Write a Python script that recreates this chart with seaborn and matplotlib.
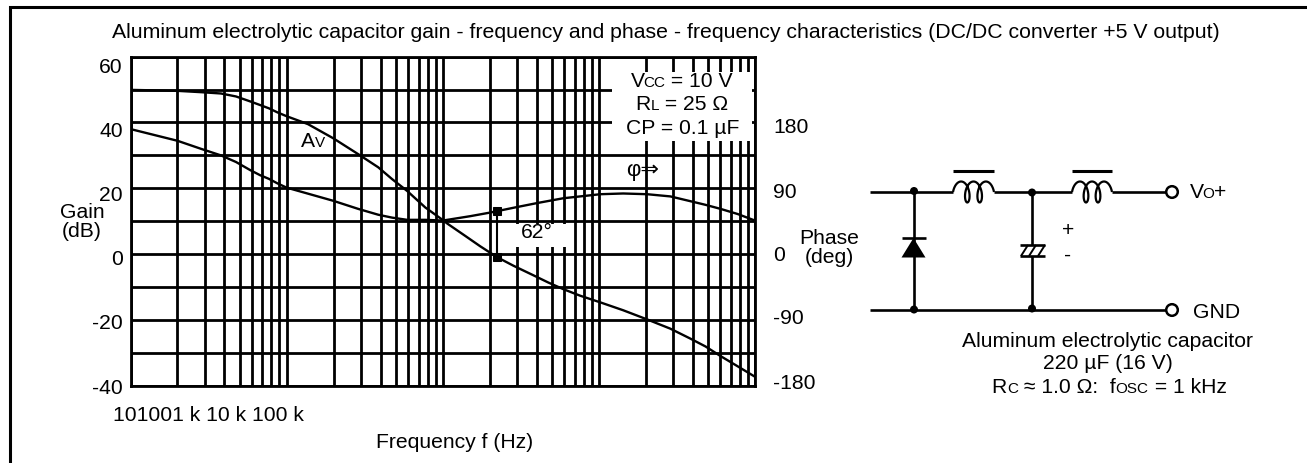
import numpy as np
import pandas as pd
import matplotlib
matplotlib.use("Agg")
import matplotlib.pyplot as plt
import matplotlib.transforms as mtransforms
from matplotlib.patches import Circle, Polygon, Rectangle
from matplotlib.ticker import LogLocator, NullFormatter
import seaborn as sns

# values
gain_freq = [10, 20, 28.3, 38, 47.4, 58.4, 67.6, 77, 87, 100, 137, 199, 287, 386, 474, 592, 773,
             1000, 1070, 1390, 1740, 2230, 2840, 3810, 4750, 5920, 7600, 10200, 14300, 20400,
             28700, 38500, 48200, 60100, 77300, 100000]
gain_db = [49.9, 49.6, 49.2, 48.8, 47.9, 46.4, 45.3, 44.3, 43.1, 41.9, 39.5, 35.2, 30.4, 26.4, 22.8,
           19.2, 14.2, 10.4, 9.3, 5.6, 2.4, -0.9, -3.5, -6.4, -8.6, -10.6, -12.6, -14.6, -17,
           -19.8, -22.6, -25.6, -28, -30.9, -34, -37.2]
phase_freq = [10, 20, 28.3, 38, 47.4, 58.4, 67.6, 77, 87, 100, 199, 287, 386, 474, 592, 773, 1000,
              1500, 2020, 2840, 4040, 5920, 10200, 14300, 20400, 28700, 38500, 48200, 60100,
              77300, 100000]
phase_deg = [171, 155, 144, 135, 126, 115, 108, 103, 97, 91, 73, 62, 54, 50, 47, 47, 46,
             52, 57, 63.5, 70, 76.5, 82, 83, 82, 79, 72.5, 67.5, 62, 55, 46]
margin_freq = [2230, 2230]
margin_db = [13.1, -0.9]

gain_grid = [-40, -30, -20, -10, 0, 10, 20, 30, 40, 50, 60]
gain_labels = ["-40", "", "-20", "", "0", "", "20", "", "40", "", "60"]
phase_ticks = [180, 90, 0, -90, -180]
freq_labels = "101001 k 10 k 100 k"

W, H = 1307, 464
FS = 15.2
BLACK = "black"

sns.set_theme(style="white")
plt.rcParams["font.family"] = ["Liberation Sans", "DejaVu Sans"]
plt.rcParams["font.size"] = FS

fig = plt.figure(figsize=(W / 100, H / 100), dpi=100)
L, R, T, B = 130.5, 755, 57.6, 387
ax = fig.add_axes([L / W, 1 - B / H, (R - L) / W, (B - T) / H])

# gain on the left axis
df_gain = pd.DataFrame({"f": gain_freq, "gain": gain_db})
sns.lineplot(data=df_gain, x="f", y="gain", color=BLACK, lw=1.7, errorbar=None, ax=ax)
df_margin = pd.DataFrame({"f": margin_freq, "gain": margin_db})
sns.lineplot(data=df_margin, x="f", y="gain", color=BLACK, lw=1.5, marker="s", ms=5.8,
             mec=BLACK, estimator=None, sort=False, ax=ax)
ax.set_xscale("log")
ax.set_xlim(10, 100000)
ax.set_ylim(-40, 60)
ax.xaxis.set_major_locator(LogLocator(base=10))
ax.xaxis.set_minor_locator(LogLocator(base=10, subs=np.arange(2, 10), numticks=12))
ax.xaxis.set_minor_formatter(NullFormatter())
ax.grid(True, which="both", color=BLACK, lw=2.0)
ax.tick_params(which="both", length=0, labelbottom=False)
ax.set_axisbelow(True)
for s in ax.spines.values():
    s.set_color(BLACK)
    s.set_linewidth(2.0)

# only every other gridline gets a label, the labels sit a bit off their lines
ax.set_yticks(gain_grid)
ax.set_yticklabels(gain_labels, fontsize=FS, color=BLACK)
ax.tick_params(axis="y", pad=5.5)
left_nudge = {"60": -8, "40": -6, "20": -4, "0": -2, "-20": 0, "-40": 1}
for lab in ax.get_yticklabels():
    n = left_nudge.get(lab.get_text(), 0)
    lab.set_transform(lab.get_transform() + mtransforms.ScaledTranslation(0, n / 100, fig.dpi_scale_trans))

# phase on the right axis, same gridlines (4.5 deg per dB)
ax2 = ax.twinx()
df_phase = pd.DataFrame({"f": phase_freq, "phase": phase_deg})
sns.lineplot(data=df_phase, x="f", y="phase", color=BLACK, lw=1.7, errorbar=None, ax=ax2)
ax2.set_ylim(-180, 270)
ax2.set_yticks(phase_ticks)
ax2.set_yticklabels([str(v) for v in phase_ticks], fontsize=FS, color=BLACK)
ax2.grid(False)
ax2.tick_params(axis="y", length=0, pad=13)
right_nudge = {"180": -2, "90": -1, "0": 2, "-90": 5, "-180": 5}
for lab in ax2.get_yticklabels():
    n = right_nudge[lab.get_text()]
    lab.set_transform(lab.get_transform() + mtransforms.ScaledTranslation(0, n / 100, fig.dpi_scale_trans))
for s in ax2.spines.values():
    s.set_visible(False)


def ax_xy(px, py):
    return (px - L) / (R - L), (B - py) / (B - T)


ax.set_xlabel("Frequency f (Hz)", fontsize=FS, color=BLACK)
ax.xaxis.set_label_coords(*ax_xy(455, 443))
ax.xaxis.label.set_va("center")
ax.set_ylabel("Gain\n(dB)", fontsize=FS, color=BLACK, rotation=0, ha="center", va="center", linespacing=1.0)
ax.yaxis.set_label_coords(*ax_xy(82, 222))
ax2.set_ylabel("Phase\n(deg)", fontsize=FS, color=BLACK, rotation=0, ha="center", va="center", linespacing=1.05)
ax2.yaxis.set_label_coords(*ax_xy(829, 248))
fig.suptitle("Aluminum electrolytic capacitor gain - frequency and phase - frequency characteristics "
             "(DC/DC converter +5 V output)", x=665.5 / W, y=1 - 33 / H, fontsize=15.3, color=BLACK,
             va="center", ha="center")

# overlay in pixel coordinates for the notes and the schematic
ov = fig.add_axes([0, 0, 1, 1], zorder=5)
ov.set_xlim(0, W)
ov.set_ylim(H, 0)
ov.axis("off")
ov.patch.set_alpha(0)

ov.add_patch(Rectangle((612, 73), 140, 69, fc="white", ec="none", zorder=1))
ov.add_patch(Rectangle((501, 225), 67, 23, fc="white", ec="none", zorder=1))
ov.plot([10, 10, W], [H, 8, 8], color=BLACK, lw=2.2, solid_joinstyle="miter", zorder=1)

renderer = fig.canvas.get_renderer()


def run_text(x, y, parts, size=FS, ha="center"):
    # text with small-cap pieces, y is the baseline
    def width(s, fs):
        a = ov.text(0, 0, s + ".", fontsize=fs)
        b = ov.text(0, 0, ".", fontsize=fs)
        w = a.get_window_extent(renderer).width - b.get_window_extent(renderer).width
        a.remove()
        b.remove()
        return w
    sizes = [size * 0.72 if small else size for _, small in parts]
    widths = [width(p[0], fs) for p, fs in zip(parts, sizes)]
    cur = x - sum(widths) / 2 if ha == "center" else x
    for (s, _), fs, w in zip(parts, sizes, widths):
        ov.text(cur, y, s, fontsize=fs, color=BLACK, va="baseline", ha="left", zorder=3)
        cur += w


run_text(681, 87, [("V", 0), ("CC", 1), (" = 10 V", 0)])
run_text(682, 110, [("R", 0), ("L", 1), (" = 25 Ω", 0)])
run_text(681, 134, [("CP = 0.1 µF", 0)])
run_text(312, 147, [("A", 0), ("V", 1)])
run_text(1190, 198, [("V", 0), ("O", 1), ("+", 0)], ha="left")
run_text(1109, 393, [("R", 0), ("C", 1), (" ≈ 1.0 Ω:  f", 0), ("OSC", 1), (" = 1 kHz", 0)])
ov.text(643, 171, "φ⇒", fontsize=16, color=BLACK, ha="center", va="center", zorder=3)
ov.text(537, 233, "62°", fontsize=FS, color=BLACK, ha="center", va="center", zorder=3)
ov.text(113, 416, freq_labels, fontsize=FS, color=BLACK, ha="left", va="center", zorder=3)
ov.text(1193, 313, "GND", fontsize=FS, color=BLACK, ha="left", va="center", zorder=3)
ov.text(1108, 342, "Aluminum electrolytic capacitor", fontsize=FS, color=BLACK, ha="center", va="center", zorder=3)
ov.text(1108, 364, "220 µF (16 V)", fontsize=FS, color=BLACK, ha="center", va="center", zorder=3)
ov.text(1068, 231, "+", fontsize=FS, color=BLACK, ha="center", va="center", zorder=3)
ov.text(1068, 255, "-", fontsize=FS, color=BLACK, ha="center", va="center", zorder=3)


# schematic
def wire(xs, ys, lw=1.9):
    ov.plot(xs, ys, color=BLACK, lw=lw, solid_capstyle="butt", zorder=2)


def inductor(x0, x1, y):
    t = np.linspace(np.pi / 2, 5.5 * np.pi, 300)
    d = 5.0
    r = (x1 - x0 - 2 * d) / (5 * np.pi)
    xs = x0 + d + r * (t - np.pi / 2) - d * np.sin(t)
    ys = y + 10.5 * np.cos(t)
    wire(xs, ys, lw=1.6)
    wire([x0, x1], [y - 21, y - 21], lw=2.2)


wire([870, 953], [193, 193])
wire([994, 1072], [193, 193])
wire([1112, 1166], [193, 193])
wire([870, 1166], [310.5, 310.5])
inductor(953, 994, 193)
inductor(1072, 1112, 193)
wire([913.5, 913.5], [192, 310])
wire([1032, 1032], [193, 246])
wire([1032, 1032], [257, 310])
wire([902, 926], [238.5, 238.5])
ov.add_patch(Polygon([[913.5, 239], [901.5, 258.5], [925.5, 258.5]], closed=True, fc=BLACK, ec="none", zorder=2))
wire([1020, 1045], [246, 246])
wire([1020, 1045], [257, 257])
for x in (1022, 1030, 1039):
    wire([x - 1, x + 6], [257, 246], lw=1.4)
for x, y in ((914, 192), (1032, 193.5), (914, 310.5), (1032, 309.5)):
    ov.add_patch(Circle((x, y), 4, fc=BLACK, ec="none", zorder=3))
for y in (193, 311):
    ov.add_patch(Circle((1172, y), 5.8, fc="white", ec=BLACK, lw=1.8, zorder=3))

fig.savefig("out.png", dpi=100)
